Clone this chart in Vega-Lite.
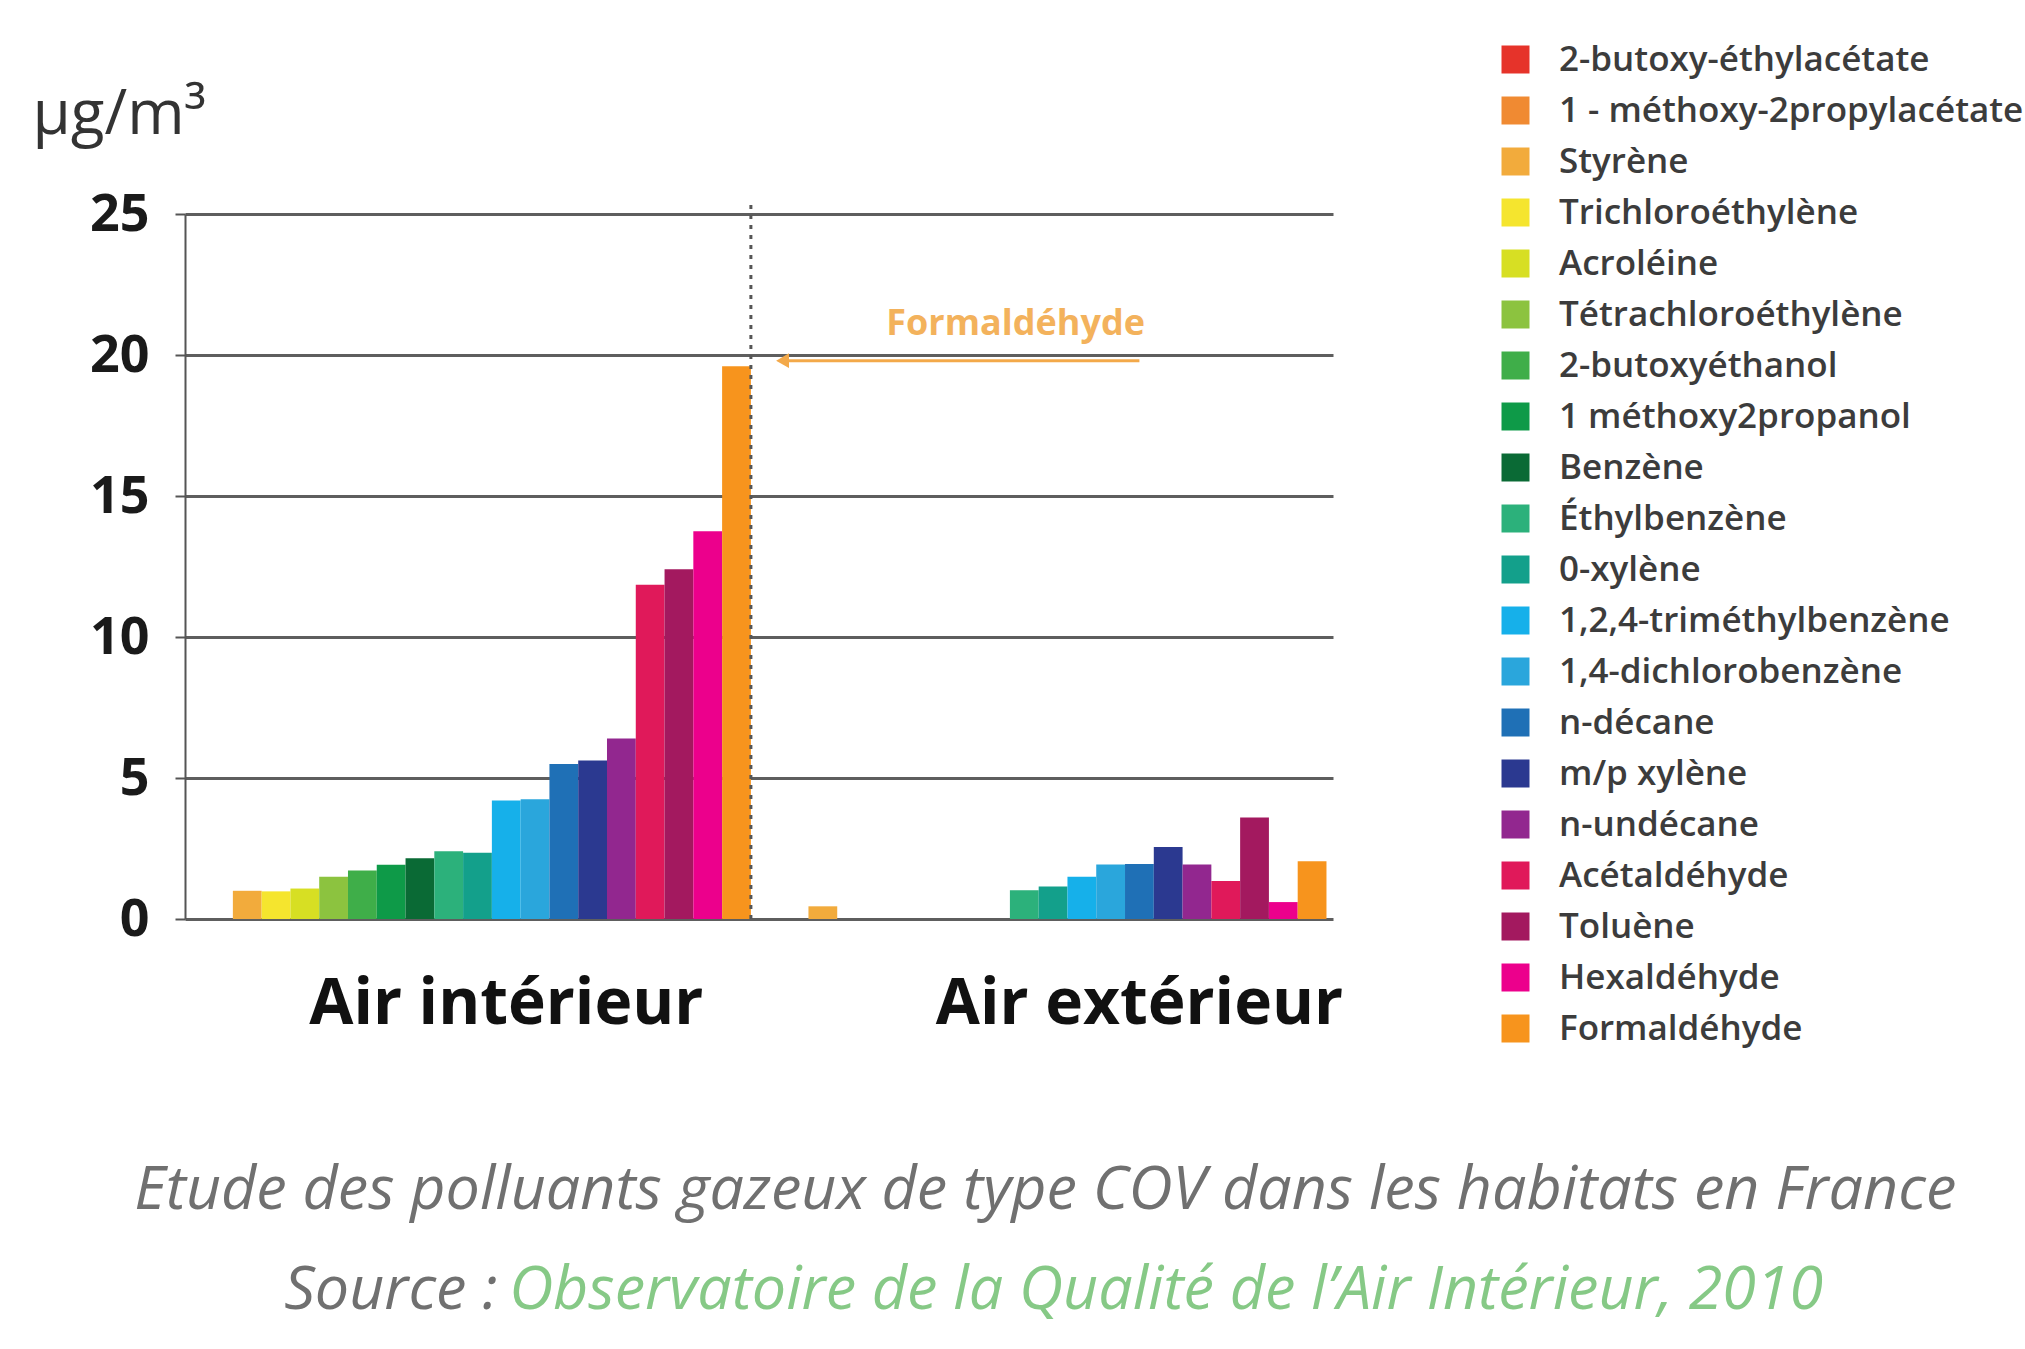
{
  "$schema": "https://vega.github.io/schema/vega-lite/v6.json",
  "width": 1148,
  "height": 705,
  "autosize": {"type": "none"},
  "padding": {"left": 185, "top": 214, "right": 692, "bottom": 430},
  "background": "white",
  "config": {"view": {"stroke": null}},
  "layer": [
    {
      "data": {
        "values": [
          {"air": "Air intérieur", "polluant": "Styrène", "cle": "Air intérieur – Styrène", "valeur": 1.0},
          {"air": "Air intérieur", "polluant": "Trichloroéthylène", "cle": "Air intérieur – Trichloroéthylène", "valeur": 0.98},
          {"air": "Air intérieur", "polluant": "Acroléine", "cle": "Air intérieur – Acroléine", "valeur": 1.08},
          {"air": "Air intérieur", "polluant": "Tétrachloroéthylène", "cle": "Air intérieur – Tétrachloroéthylène", "valeur": 1.5},
          {"air": "Air intérieur", "polluant": "2-butoxyéthanol", "cle": "Air intérieur – 2-butoxyéthanol", "valeur": 1.72},
          {"air": "Air intérieur", "polluant": "1 méthoxy2propanol", "cle": "Air intérieur – 1 méthoxy2propanol", "valeur": 1.92},
          {"air": "Air intérieur", "polluant": "Benzène", "cle": "Air intérieur – Benzène", "valeur": 2.15},
          {"air": "Air intérieur", "polluant": "Éthylbenzène", "cle": "Air intérieur – Éthylbenzène", "valeur": 2.4},
          {"air": "Air intérieur", "polluant": "0-xylène", "cle": "Air intérieur – 0-xylène", "valeur": 2.35},
          {"air": "Air intérieur", "polluant": "1,2,4-triméthylbenzène", "cle": "Air intérieur – 1,2,4-triméthylbenzène", "valeur": 4.2},
          {"air": "Air intérieur", "polluant": "1,4-dichlorobenzène", "cle": "Air intérieur – 1,4-dichlorobenzène", "valeur": 4.25},
          {"air": "Air intérieur", "polluant": "n-décane", "cle": "Air intérieur – n-décane", "valeur": 5.5},
          {"air": "Air intérieur", "polluant": "m/p xylène", "cle": "Air intérieur – m/p xylène", "valeur": 5.62},
          {"air": "Air intérieur", "polluant": "n-undécane", "cle": "Air intérieur – n-undécane", "valeur": 6.4},
          {"air": "Air intérieur", "polluant": "Acétaldéhyde", "cle": "Air intérieur – Acétaldéhyde", "valeur": 11.85},
          {"air": "Air intérieur", "polluant": "Toluène", "cle": "Air intérieur – Toluène", "valeur": 12.4},
          {"air": "Air intérieur", "polluant": "Hexaldéhyde", "cle": "Air intérieur – Hexaldéhyde", "valeur": 13.75},
          {"air": "Air intérieur", "polluant": "Formaldéhyde", "cle": "Air intérieur – Formaldéhyde", "valeur": 19.6},
          {"air": "Air extérieur", "polluant": "Styrène", "cle": "Air extérieur – Styrène", "valeur": 0.45},
          {"air": "Air extérieur", "polluant": "Éthylbenzène", "cle": "Air extérieur – Éthylbenzène", "valeur": 1.02},
          {"air": "Air extérieur", "polluant": "0-xylène", "cle": "Air extérieur – 0-xylène", "valeur": 1.15},
          {"air": "Air extérieur", "polluant": "1,2,4-triméthylbenzène", "cle": "Air extérieur – 1,2,4-triméthylbenzène", "valeur": 1.5},
          {"air": "Air extérieur", "polluant": "1,4-dichlorobenzène", "cle": "Air extérieur – 1,4-dichlorobenzène", "valeur": 1.93},
          {"air": "Air extérieur", "polluant": "n-décane", "cle": "Air extérieur – n-décane", "valeur": 1.95},
          {"air": "Air extérieur", "polluant": "m/p xylène", "cle": "Air extérieur – m/p xylène", "valeur": 2.55},
          {"air": "Air extérieur", "polluant": "n-undécane", "cle": "Air extérieur – n-undécane", "valeur": 1.93},
          {"air": "Air extérieur", "polluant": "Acétaldéhyde", "cle": "Air extérieur – Acétaldéhyde", "valeur": 1.35},
          {"air": "Air extérieur", "polluant": "Toluène", "cle": "Air extérieur – Toluène", "valeur": 3.6},
          {"air": "Air extérieur", "polluant": "Hexaldéhyde", "cle": "Air extérieur – Hexaldéhyde", "valeur": 0.6},
          {"air": "Air extérieur", "polluant": "Formaldéhyde", "cle": "Air extérieur – Formaldéhyde", "valeur": 2.05}
        ]
      },
      "mark": {"type": "bar", "opacity": 1},
      "encoding": {
        "x": {
          "field": "cle",
          "type": "nominal",
          "sort": null,
          "scale": {
            "domain": [
              "Air intérieur – Styrène", "Air intérieur – Trichloroéthylène", "Air intérieur – Acroléine", "Air intérieur – Tétrachloroéthylène", "Air intérieur – 2-butoxyéthanol", "Air intérieur – 1 méthoxy2propanol", "Air intérieur – Benzène", "Air intérieur – Éthylbenzène", "Air intérieur – 0-xylène", "Air intérieur – 1,2,4-triméthylbenzène", "Air intérieur – 1,4-dichlorobenzène", "Air intérieur – n-décane", "Air intérieur – m/p xylène", "Air intérieur – n-undécane", "Air intérieur – Acétaldéhyde", "Air intérieur – Toluène", "Air intérieur – Hexaldéhyde", "Air intérieur – Formaldéhyde",
              "sép1", "sép2",
              "Air extérieur – Styrène", "Air extérieur – Trichloroéthylène", "Air extérieur – Acroléine", "Air extérieur – Tétrachloroéthylène", "Air extérieur – 2-butoxyéthanol", "Air extérieur – 1 méthoxy2propanol", "Air extérieur – Benzène", "Air extérieur – Éthylbenzène", "Air extérieur – 0-xylène", "Air extérieur – 1,2,4-triméthylbenzène", "Air extérieur – 1,4-dichlorobenzène", "Air extérieur – n-décane", "Air extérieur – m/p xylène", "Air extérieur – n-undécane", "Air extérieur – Acétaldéhyde", "Air extérieur – Toluène", "Air extérieur – Hexaldéhyde", "Air extérieur – Formaldéhyde"
            ],
            "paddingInner": 0,
            "paddingOuter": 0.945,
            "align": 0.88
          },
          "axis": {
            "title": null,
            "domain": false,
            "ticks": false,
            "labelAngle": 0,
            "labelOverlap": false,
            "labelBound": false,
            "labelLimit": 1000,
            "labelExpr": "datum.value == 'Air intérieur – 1,2,4-triméthylbenzène' ? 'Air intérieur' : (datum.value == 'Air extérieur – n-décane' ? 'Air extérieur' : '')",
            "labelFont": "Open Sans",
            "labelFontWeight": "bold",
            "labelFontSize": 64,
            "labelColor": "#111111",
            "labelPadding": 53,
            "labelBaseline": "top"
          }
        },
        "y": {
          "field": "valeur",
          "type": "quantitative",
          "scale": {"domain": [0, 25], "nice": false},
          "axis": {
            "values": [0, 5, 10, 15, 20, 25],
            "title": "µg/m³",
            "titleAngle": 0,
            "titleAlign": "left",
            "titleBaseline": "middle",
            "titleX": -153,
            "titleY": -100,
            "titleFont": "Open Sans",
            "titleFontSize": 62,
            "titleFontWeight": "normal",
            "titleColor": "#333333",
            "grid": true,
            "gridColor": "#5e5e5e",
            "gridWidth": 3,
            "domainColor": "#555555",
            "domainWidth": 2,
            "tickColor": "#555555",
            "tickSize": 10,
            "tickWidth": 2,
            "labelFont": "Open Sans",
            "labelFontWeight": "bold",
            "labelFontSize": 52,
            "labelColor": "#1a1a1a",
            "labelPadding": 26
          }
        },
        "color": {
          "field": "polluant",
          "type": "nominal",
          "scale": {
            "domain": ["2-butoxy-éthylacétate", "1 - méthoxy-2propylacétate", "Styrène", "Trichloroéthylène", "Acroléine", "Tétrachloroéthylène", "2-butoxyéthanol", "1 méthoxy2propanol", "Benzène", "Éthylbenzène", "0-xylène", "1,2,4-triméthylbenzène", "1,4-dichlorobenzène", "n-décane", "m/p xylène", "n-undécane", "Acétaldéhyde", "Toluène", "Hexaldéhyde", "Formaldéhyde"],
            "range": ["#e6332a", "#f08a32", "#f2ab3c", "#f5e52e", "#d7df23", "#8cc33f", "#3fae49", "#0e9a48", "#0a6a35", "#2cb17b", "#13a08b", "#16b0ea", "#2aa6dc", "#1f70b6", "#2b3990", "#92278f", "#e0195a", "#a3195f", "#ec008c", "#f7941d"]
          },
          "legend": {
            "title": null,
            "orient": "none",
            "legendX": 1313,
            "legendY": -172,
            "symbolType": "square",
            "symbolSize": 784,
            "symbolStrokeWidth": 0,
            "symbolOpacity": 1,
            "labelFont": "Open Sans",
            "labelFontSize": 35,
            "labelFontWeight": 600,
            "labelColor": "#3c3c3c",
            "labelOffset": 26,
            "labelLimit": 1000,
            "rowPadding": 15
          }
        }
      }
    },
    {
      "data": {"values": [{}]},
      "mark": {"type": "rule", "strokeDash": [4, 6], "strokeWidth": 3, "color": "#555555"},
      "encoding": {
        "x": {"datum": "sép1", "bandPosition": 0},
        "y": {"datum": 0},
        "y2": {"datum": 25.5}
      }
    },
    {
      "data": {"values": [{}]},
      "mark": {"type": "rule", "strokeWidth": 3, "color": "#f3a94a"},
      "encoding": {
        "x": {"datum": "sép2", "bandPosition": 0},
        "x2": {"datum": "Air extérieur – n-décane"},
        "y": {"datum": 19.8}
      }
    },
    {
      "data": {"values": [{}]},
      "mark": {"type": "point", "shape": "triangle-left", "filled": true, "size": 220, "color": "#f3a94a", "opacity": 1},
      "encoding": {
        "x": {"datum": "sép2", "bandPosition": 0.1},
        "y": {"datum": 19.8}
      }
    },
    {
      "data": {"values": [{}]},
      "mark": {"type": "text", "font": "Open Sans", "fontWeight": "bold", "fontSize": 36, "color": "#f3b25c", "align": "center", "baseline": "middle"},
      "encoding": {
        "x": {"datum": "Air extérieur – Éthylbenzène", "bandPosition": 0.2},
        "y": {"datum": 21.1},
        "text": {"value": "Formaldéhyde"}
      }
    },
    {
      "data": {"values": [{}]},
      "mark": {"type": "text", "font": "Open Sans", "fontStyle": "italic", "fontSize": 61, "color": "#707070", "align": "center", "baseline": "middle", "clip": false},
      "encoding": {
        "x": {"datum": "Air extérieur – 0-xylène", "bandPosition": 0.23},
        "y": {"datum": -9.63},
        "text": {"value": "Etude des polluants gazeux de type COV dans les habitats en France"}
      }
    },
    {
      "data": {"values": [{}]},
      "mark": {"type": "text", "font": "Open Sans", "fontStyle": "italic", "fontSize": 61, "color": "#707070", "align": "right", "baseline": "middle", "clip": false},
      "encoding": {
        "x": {"datum": "Air intérieur – 1,2,4-triméthylbenzène", "bandPosition": 0.2},
        "y": {"datum": -13.2},
        "text": {"value": "Source :"}
      }
    },
    {
      "data": {"values": [{}]},
      "mark": {"type": "text", "font": "Open Sans", "fontStyle": "italic", "fontSize": 61, "color": "#86c986", "align": "left", "baseline": "middle", "clip": false},
      "encoding": {
        "x": {"datum": "Air intérieur – 1,2,4-triméthylbenzène", "bandPosition": 0.6},
        "y": {"datum": -13.2},
        "text": {"value": "Observatoire de la Qualité de l’Air Intérieur, 2010"}
      }
    }
  ]
}
